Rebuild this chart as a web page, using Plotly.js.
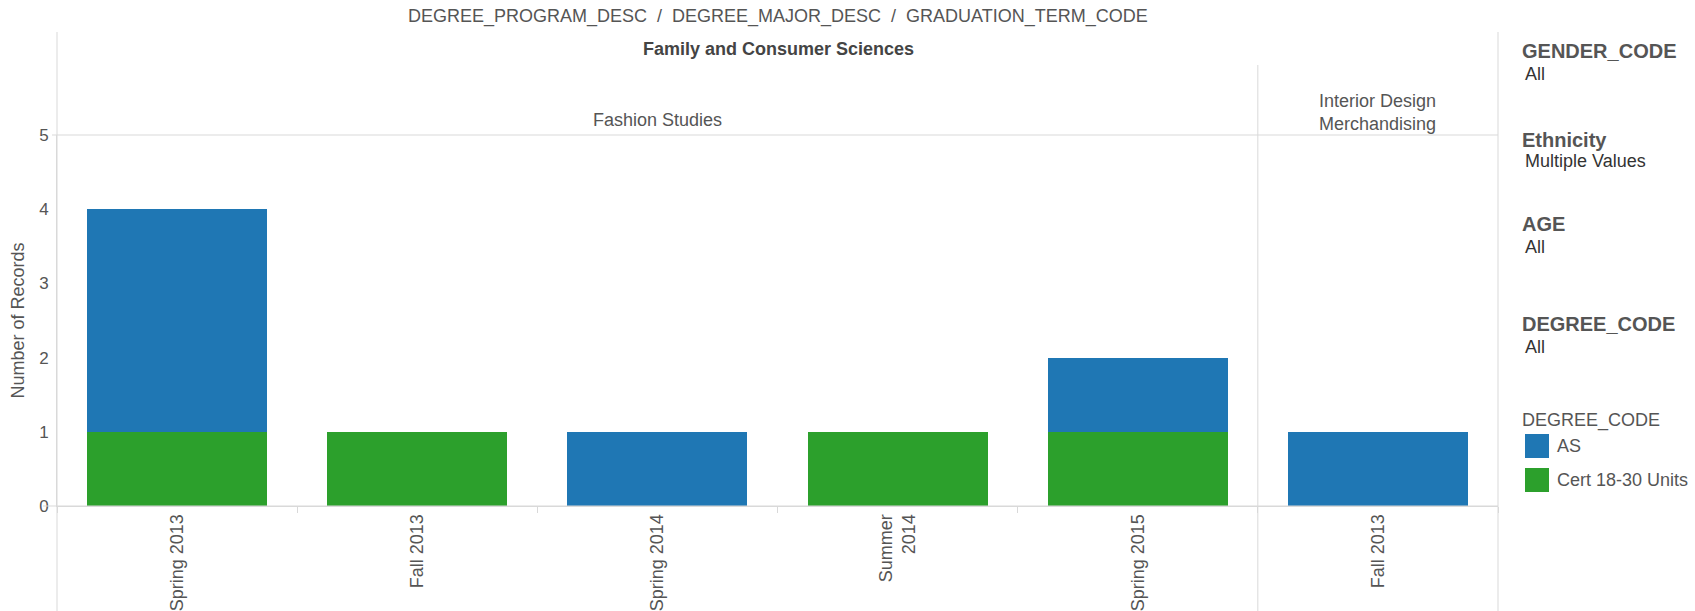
<!DOCTYPE html>
<html>
<head>
<meta charset="utf-8">
<script src="https://cdn.plot.ly/plotly-3.0.1.min.js"></script>
<style>
  html, body { margin: 0; padding: 0; background: #fff; }
  #chart { width: 1695px; height: 611px; }
</style>
</head>
<body>
<div id="chart"></div>
<script>
// ---- Data ----
const programName = 'Family and Consumer Sciences';
const majors = ['Fashion Studies', 'Fashion Studies', 'Fashion Studies', 'Fashion Studies', 'Fashion Studies', 'Interior Design Merchandising'];
const terms = ['Spring 2013', 'Fall 2013', 'Spring 2014', 'Summer 2014', 'Spring 2015', 'Fall 2013'];
const asCounts = [3, null, 1, null, 1, 1];
const certCounts = [1, 1, null, 1, 1, null];
const yTicks = [0, 1, 2, 3, 4, 5];
const seriesNames = ['AS', 'Cert 18-30 Units'];
const filterNames = ['GENDER_CODE', 'Ethnicity', 'AGE', 'DEGREE_CODE'];
const filterValues = ['All', 'Multiple Values', 'All', 'All'];
const headerText = 'DEGREE_PROGRAM_DESC  /  DEGREE_MAJOR_DESC  /  GRADUATION_TERM_CODE';

// ---- Styles ----
const BLUE = '#1f77b4', GREEN = '#2ca02c';
const LINE = '#d9d9d9';
const FONT = 'Arial, "Liberation Sans", sans-serif';
const W = 1695, H = 611;
const L = 57, R = 1498, T = 135, B = 506;
const px2x = p => (p - L) / (R - L);
const py2y = p => (B - p) / (B - T);

// category ids (unique) and labels
const catIds = majors.map((m, i) => m + ' | ' + terms[i] + ' | ' + i);
const tickLabels = terms.map(t => t === 'Summer 2014' ? 'Summer<br>2014' : t);

const traces = [
  { type: 'bar', name: seriesNames[1], x: catIds, y: certCounts, marker: { color: GREEN }, showlegend: false },
  { type: 'bar', name: seriesNames[0], x: catIds, y: asCounts, marker: { color: BLUE }, showlegend: false }
];

// Major group centers (in category index units)
const uniqueMajors = [...new Set(majors)];
const majorCenters = uniqueMajors.map(m => {
  const idx = majors.map((mm, i) => mm === m ? i : -1).filter(i => i >= 0);
  return (idx[0] + idx[idx.length - 1]) / 2;
});
const majorBoundary = majors.findIndex(m => m !== majors[0]) - 0.5;

const annotations = [];
annotations.push({ xref: 'paper', yref: 'paper', x: px2x(778), y: py2y(16.5), text: headerText, showarrow: false,
  xanchor: 'center', yanchor: 'middle', font: { family: FONT, size: 18, color: '#555' } });
annotations.push({ xref: 'paper', yref: 'paper', x: px2x(778), y: py2y(49), text: '<b>' + programName + '</b>', showarrow: false,
  xanchor: 'center', yanchor: 'middle', font: { family: FONT, size: 18, color: '#444' } });
const majorLabels = uniqueMajors.map(m => m === 'Interior Design Merchandising' ? 'Interior Design<br>Merchandising' : m);
const majorY = [120, 112.5];
uniqueMajors.forEach((m, k) => {
  annotations.push({ xref: 'x', yref: 'paper', x: majorCenters[k], y: py2y(majorY[k]), text: majorLabels[k], showarrow: false,
    xanchor: 'center', yanchor: 'middle', font: { family: FONT, size: 18, color: '#555' } });
});
// filter cards
const filterTitleY = [51, 139.5, 223.7, 324];
const filterValueY = [73.7, 161, 246.7, 346.7];
filterNames.forEach((f, k) => {
  annotations.push({ xref: 'paper', yref: 'paper', x: px2x(1520), y: py2y(filterTitleY[k]), text: '<b>' + f + '</b>', showarrow: false,
    xanchor: 'left', yanchor: 'middle', font: { family: FONT, size: 20, color: '#555' } });
  annotations.push({ xref: 'paper', yref: 'paper', x: px2x(1523), y: py2y(filterValueY[k]), text: filterValues[k], showarrow: false,
    xanchor: 'left', yanchor: 'middle', font: { family: FONT, size: 18, color: '#333' } });
});
// color legend
annotations.push({ xref: 'paper', yref: 'paper', x: px2x(1520), y: py2y(420), text: 'DEGREE_CODE', showarrow: false,
  xanchor: 'left', yanchor: 'middle', font: { family: FONT, size: 18, color: '#555' } });
const legendColors = [BLUE, GREEN];
const legendY = [446, 480];
const shapes = [];
seriesNames.forEach((s, k) => {
  shapes.push({ type: 'rect', xref: 'paper', yref: 'paper', x0: px2x(1525), x1: px2x(1549), y0: py2y(legendY[k] + 12), y1: py2y(legendY[k] - 12),
    fillcolor: legendColors[k], line: { width: 0 } });
  annotations.push({ xref: 'paper', yref: 'paper', x: px2x(1555), y: py2y(legendY[k]), text: s, showarrow: false,
    xanchor: 'left', yanchor: 'middle', font: { family: FONT, size: 18, color: '#555' } });
});

// structural lines
shapes.push({ type: 'line', xref: 'paper', yref: 'paper', x0: 0, x1: 0, y0: py2y(611), y1: py2y(32), line: { color: LINE, width: 1 } });
shapes.push({ type: 'line', xref: 'paper', yref: 'paper', x0: 1, x1: 1, y0: py2y(611), y1: py2y(32), line: { color: LINE, width: 1 } });
shapes.push({ type: 'line', xref: 'x', yref: 'paper', x0: majorBoundary, x1: majorBoundary, y0: py2y(611), y1: py2y(65), line: { color: LINE, width: 1 } });
shapes.push({ type: 'line', xref: 'paper', yref: 'paper', x0: px2x(52), x1: 1, y0: 1, y1: 1, line: { color: LINE, width: 1 } });
shapes.push({ type: 'line', xref: 'paper', yref: 'paper', x0: px2x(43), x1: 1, y0: 0, y1: 0, line: { color: LINE, width: 1 } });

const layout = {
  width: W, height: H,
  margin: { l: L, r: W - R, t: T, b: H - B, pad: 0 },
  paper_bgcolor: '#fff', plot_bgcolor: '#fff',
  barmode: 'stack', bargap: 0.25,
  font: { family: FONT, color: '#555' },
  xaxis: {
    type: 'category', tickmode: 'array', tickvals: catIds, ticktext: tickLabels,
    tickangle: -90, ticks: 'outside', tickson: 'boundaries', ticklen: 6, tickcolor: LINE,
    showline: true, linecolor: LINE, showgrid: false, zeroline: false,
    tickfont: { family: FONT, size: 18, color: '#555' }, automargin: false
  },
  yaxis: {
    range: [0, 5], tickmode: 'array', tickvals: yTicks, ticks: '', ticklabelstandoff: 4,
    showline: true, linecolor: LINE, showgrid: false, zeroline: false,
    tickfont: { family: FONT, size: 17, color: '#555' },
    title: { text: 'Number of Records', font: { family: FONT, size: 18, color: '#555' }, standoff: 9 },
    automargin: false
  },
  annotations: annotations,
  shapes: shapes,
  showlegend: false
};

Plotly.newPlot('chart', traces, layout, { displayModeBar: false, staticPlot: true });
</script>
</body>
</html>
